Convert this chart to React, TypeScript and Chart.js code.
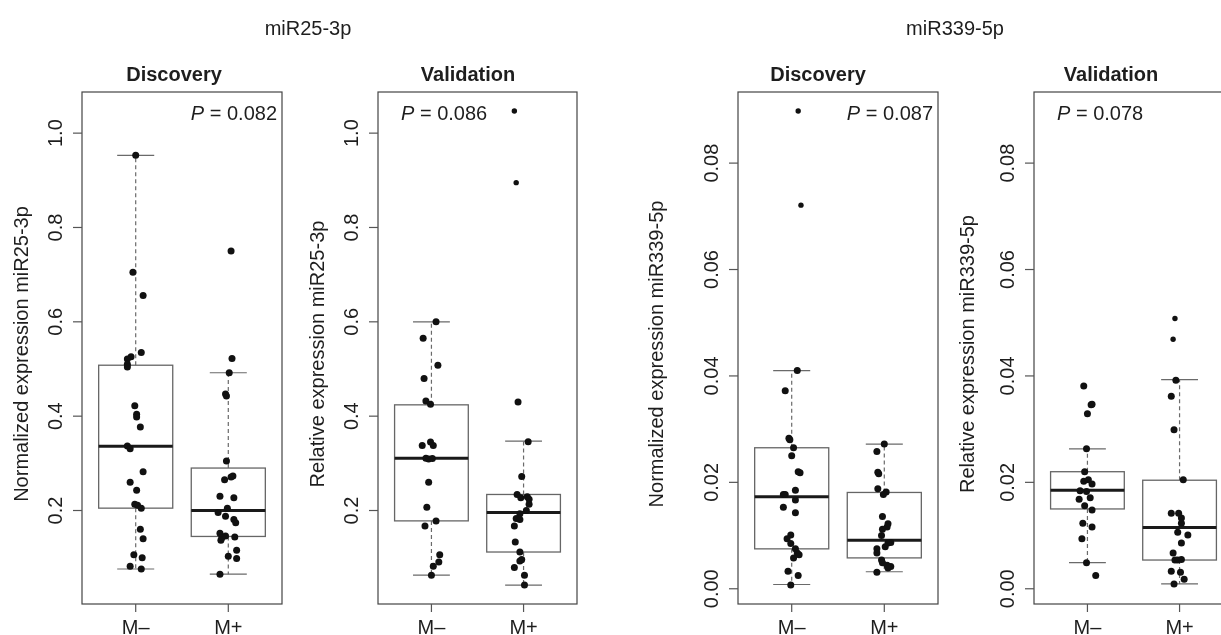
import React, { useEffect, useRef } from "react";
import { Chart, registerables } from "chart.js";

Chart.register(...registerables);

// ---------- data ----------
const CATEGORIES = ["M\u2013", "M+"];
const GROUP_TITLES = ["miR25-3p", "miR339-5p"];
const PANEL_TITLES = ["Discovery", "Validation", "Discovery", "Validation"];
const Y_LABELS = [
  "Normalized expression miR25-3p",
  "Relative expression miR25-3p",
  "Normalized expression miR339-5p",
  "Relative expression miR339-5p",
];
const P_VALUES = ["0.082", "0.086", "0.087", "0.078"];

const TICKS_25 = [0.2, 0.4, 0.6, 0.8, 1.0];
const TICK_LABELS_25 = ["0.2", "0.4", "0.6", "0.8", "1.0"];
const TICKS_339 = [0, 0.02, 0.04, 0.06, 0.08];
const TICK_LABELS_339 = ["0.00", "0.02", "0.04", "0.06", "0.08"];

// Panel 1: miR25-3p Discovery
const P1_NEG_VALUES = [0.953, 0.705, 0.656, 0.535, 0.526, 0.521, 0.51, 0.504, 0.422, 0.404, 0.398, 0.377, 0.337, 0.331, 0.282, 0.26, 0.243, 0.213, 0.211, 0.205, 0.16, 0.14, 0.106, 0.1, 0.082, 0.076];
const P1_NEG_JITTER = [0.0, -0.03, 0.08, 0.06, -0.05, -0.09, -0.09, -0.09, -0.01, 0.01, 0.01, 0.05, -0.09, -0.06, 0.08, -0.06, 0.01, -0.01, 0.02, 0.06, 0.05, 0.08, -0.02, 0.07, -0.06, 0.06];
const P1_POS_VALUES = [0.75, 0.522, 0.492, 0.447, 0.443, 0.305, 0.273, 0.271, 0.265, 0.23, 0.227, 0.205, 0.196, 0.188, 0.181, 0.174, 0.152, 0.146, 0.144, 0.142, 0.137, 0.116, 0.103, 0.098, 0.065];
const P1_POS_JITTER = [0.03, 0.04, 0.01, -0.03, -0.02, -0.02, 0.05, 0.03, -0.04, -0.09, 0.06, -0.01, -0.11, -0.03, 0.06, 0.08, -0.09, -0.03, 0.07, -0.07, -0.08, 0.09, 0.0, 0.09, -0.09];
const P1_BOX_NEG = [0.076, 0.205, 0.336, 0.508, 0.953];
const P1_BOX_POS = [0.065, 0.145, 0.2, 0.29, 0.492];

// Panel 2: miR25-3p Validation
const P2_NEG_VALUES = [0.6, 0.565, 0.508, 0.48, 0.432, 0.425, 0.345, 0.338, 0.338, 0.311, 0.309, 0.31, 0.26, 0.207, 0.178, 0.167, 0.106, 0.091, 0.082, 0.063];
const P2_NEG_JITTER = [0.05, -0.09, 0.07, -0.08, -0.06, -0.01, -0.01, -0.1, 0.02, -0.06, -0.03, 0.01, -0.03, -0.05, 0.05, -0.07, 0.09, 0.08, 0.02, 0.0];
const P2_POS_VALUES = [0.43, 0.346, 0.272, 0.234, 0.227, 0.229, 0.224, 0.213, 0.2, 0.193, 0.183, 0.181, 0.167, 0.133, 0.112, 0.096, 0.093, 0.079, 0.063, 0.042];
const P2_POS_JITTER = [-0.06, 0.05, -0.02, -0.07, -0.03, 0.04, 0.06, 0.06, 0.03, -0.04, -0.08, -0.04, -0.1, -0.09, -0.04, -0.02, -0.04, -0.1, 0.01, 0.01];
const P2_POS_OUT_VALUES = [1.047, 0.895];
const P2_POS_OUT_JITTER = [-0.1, -0.08];
const P2_BOX_NEG = [0.063, 0.178, 0.311, 0.424, 0.6];
const P2_BOX_POS = [0.042, 0.112, 0.196, 0.234, 0.347];

// Panel 3: miR339-5p Discovery
const P3_NEG_VALUES = [0.041, 0.0372, 0.0283, 0.028, 0.0265, 0.025, 0.022, 0.0218, 0.0185, 0.0177, 0.0177, 0.0167, 0.0153, 0.0143, 0.0101, 0.0094, 0.0085, 0.0075, 0.0067, 0.0064, 0.0058, 0.0033, 0.0025, 0.0007];
const P3_NEG_JITTER = [0.06, -0.07, -0.03, -0.02, 0.02, 0.0, 0.07, 0.09, 0.04, -0.09, -0.07, 0.04, -0.09, 0.04, -0.01, -0.05, -0.01, 0.04, 0.06, 0.08, 0.02, -0.04, 0.07, -0.01];
const P3_NEG_OUT_VALUES = [0.0898, 0.0721];
const P3_NEG_OUT_JITTER = [0.07, 0.1];
const P3_POS_VALUES = [0.0272, 0.0258, 0.0219, 0.0216, 0.0188, 0.0182, 0.0177, 0.0136, 0.0122, 0.0116, 0.0112, 0.01, 0.0087, 0.0086, 0.0079, 0.0075, 0.0067, 0.0054, 0.0049, 0.0044, 0.0042, 0.0039, 0.0031];
const P3_POS_JITTER = [0.0, -0.08, -0.07, -0.06, -0.07, 0.02, -0.01, -0.02, 0.04, 0.03, -0.02, -0.03, 0.07, 0.04, 0.01, -0.08, -0.08, -0.03, -0.02, 0.03, 0.07, 0.04, -0.08];
const P3_BOX_NEG = [0.0008, 0.0075, 0.0173, 0.0265, 0.041];
const P3_BOX_POS = [0.0032, 0.0058, 0.0091, 0.0181, 0.0272];

// Panel 4: miR339-5p Validation
const P4_NEG_VALUES = [0.0381, 0.0346, 0.0347, 0.0329, 0.0263, 0.022, 0.0202, 0.0205, 0.0197, 0.0184, 0.0183, 0.0171, 0.0168, 0.0156, 0.0148, 0.0123, 0.0116, 0.0094, 0.0049, 0.0025];
const P4_NEG_JITTER = [-0.04, 0.04, 0.05, 0.0, -0.01, -0.03, -0.04, 0.01, 0.05, -0.08, -0.01, 0.03, -0.09, -0.03, 0.05, -0.05, 0.05, -0.06, -0.01, 0.09];
const P4_POS_VALUES = [0.0392, 0.0362, 0.0299, 0.0205, 0.0142, 0.0142, 0.0133, 0.0123, 0.0106, 0.0101, 0.0086, 0.0067, 0.0054, 0.0054, 0.0055, 0.0033, 0.0031, 0.0018, 0.0009];
const P4_POS_JITTER = [-0.04, -0.09, -0.06, 0.04, -0.09, -0.01, 0.02, 0.02, -0.02, 0.09, 0.02, -0.07, -0.05, -0.02, 0.02, -0.09, 0.01, 0.05, -0.06];
const P4_POS_OUT_VALUES = [0.0508, 0.0469];
const P4_POS_OUT_JITTER = [-0.05, -0.07];
const P4_BOX_NEG = [0.0049, 0.015, 0.0185, 0.022, 0.0263];
const P4_BOX_POS = [0.0009, 0.0054, 0.0115, 0.0204, 0.0393];

// ---------- helpers ----------
const FONT = '"Liberation Sans", Arial, Helvetica, sans-serif';
const FS = 20;

function rRange(values: number[]): [number, number] {
  const mn = Math.min(...values);
  const mx = Math.max(...values);
  const r = mx - mn;
  return [mn - 0.04 * r, mx + 0.04 * r];
}

const RANGE_25 = rRange([
  ...P1_NEG_VALUES, ...P1_POS_VALUES, ...P2_NEG_VALUES, ...P2_POS_VALUES, ...P2_POS_OUT_VALUES,
]);
const RANGE_339 = rRange([
  ...P3_NEG_VALUES, ...P3_NEG_OUT_VALUES, ...P3_POS_VALUES, ...P4_NEG_VALUES, ...P4_POS_VALUES, ...P4_POS_OUT_VALUES,
]);

function pts(values: number[], jitter: number[], group: number) {
  return values.map((v, i) => ({ x: group + jitter[i], y: v }));
}

type PanelCfg = {
  canvasLeft: number;
  width: number;
  padLeft: number;
  padRight: number;
  title: string;
  titleX: number;
  yLabel: string;
  yLabelX: number;
  pText: string;
  pAlign: "left" | "right";
  normal: { x: number; y: number }[];
  small: { x: number; y: number }[];
  boxes: number[][];
  range: [number, number];
  ticks: number[];
  tickLabels: string[];
};

const PANELS: PanelCfg[] = [
  {
    canvasLeft: 0, width: 290, padLeft: 82, padRight: 8,
    title: PANEL_TITLES[0], titleX: 174, yLabel: Y_LABELS[0], yLabelX: 22,
    pText: P_VALUES[0], pAlign: "right",
    normal: [...pts(P1_NEG_VALUES, P1_NEG_JITTER, 1), ...pts(P1_POS_VALUES, P1_POS_JITTER, 2)],
    small: [],
    boxes: [P1_BOX_NEG, P1_BOX_POS], range: RANGE_25, ticks: TICKS_25, tickLabels: TICK_LABELS_25,
  },
  {
    canvasLeft: 290, width: 310, padLeft: 88, padRight: 23,
    title: PANEL_TITLES[1], titleX: 468, yLabel: Y_LABELS[1], yLabelX: 318,
    pText: P_VALUES[1], pAlign: "left",
    normal: [...pts(P2_NEG_VALUES, P2_NEG_JITTER, 1), ...pts(P2_POS_VALUES, P2_POS_JITTER, 2)],
    small: pts(P2_POS_OUT_VALUES, P2_POS_OUT_JITTER, 2),
    boxes: [P2_BOX_NEG, P2_BOX_POS], range: RANGE_25, ticks: TICKS_25, tickLabels: TICK_LABELS_25,
  },
  {
    canvasLeft: 620, width: 330, padLeft: 118, padRight: 12,
    title: PANEL_TITLES[2], titleX: 818, yLabel: Y_LABELS[2], yLabelX: 657,
    pText: P_VALUES[2], pAlign: "right",
    normal: [...pts(P3_NEG_VALUES, P3_NEG_JITTER, 1), ...pts(P3_POS_VALUES, P3_POS_JITTER, 2)],
    small: pts(P3_NEG_OUT_VALUES, P3_NEG_OUT_JITTER, 1),
    boxes: [P3_BOX_NEG, P3_BOX_POS], range: RANGE_339, ticks: TICKS_339, tickLabels: TICK_LABELS_339,
  },
  {
    canvasLeft: 950, width: 290, padLeft: 84, padRight: 7,
    title: PANEL_TITLES[3], titleX: 1111, yLabel: Y_LABELS[3], yLabelX: 968,
    pText: P_VALUES[3], pAlign: "left",
    normal: [...pts(P4_NEG_VALUES, P4_NEG_JITTER, 1), ...pts(P4_POS_VALUES, P4_POS_JITTER, 2)],
    small: pts(P4_POS_OUT_VALUES, P4_POS_OUT_JITTER, 2),
    boxes: [P4_BOX_NEG, P4_BOX_POS], range: RANGE_339, ticks: TICKS_339, tickLabels: TICK_LABELS_339,
  },
];

const HEIGHT = 635;
const PAD_TOP = 92;
const PAD_BOTTOM = 31;

function makePlugin(p: PanelCfg) {
  return {
    id: "rbox",
    beforeDatasetsDraw(chart: any) {
      const ctx = chart.ctx as CanvasRenderingContext2D;
      const xs = chart.scales.x;
      const ys = chart.scales.y;
      ctx.save();
      p.boxes.forEach((b, gi) => {
        const g = gi + 1;
        const [lo, q1, med, q3, hi] = b;
        const xc = xs.getPixelForValue(g);
        const xl = xs.getPixelForValue(g - 0.4);
        const xr = xs.getPixelForValue(g + 0.4);
        const cl = xs.getPixelForValue(g - 0.2);
        const cr = xs.getPixelForValue(g + 0.2);
        const yLo = ys.getPixelForValue(lo);
        const yQ1 = ys.getPixelForValue(q1);
        const yMed = ys.getPixelForValue(med);
        const yQ3 = ys.getPixelForValue(q3);
        const yHi = ys.getPixelForValue(hi);
        // whiskers (dashed)
        ctx.strokeStyle = "#6a6a6a";
        ctx.lineWidth = 1.2;
        ctx.setLineDash([4, 3]);
        ctx.beginPath();
        ctx.moveTo(xc, yQ3);
        ctx.lineTo(xc, yHi);
        ctx.moveTo(xc, yQ1);
        ctx.lineTo(xc, yLo);
        ctx.stroke();
        ctx.setLineDash([]);
        // staples
        ctx.beginPath();
        ctx.moveTo(cl, yHi);
        ctx.lineTo(cr, yHi);
        ctx.moveTo(cl, yLo);
        ctx.lineTo(cr, yLo);
        ctx.stroke();
        // box
        ctx.fillStyle = "#ffffff";
        ctx.fillRect(xl, yQ3, xr - xl, yQ1 - yQ3);
        ctx.strokeStyle = "#666666";
        ctx.lineWidth = 1.3;
        ctx.strokeRect(xl, yQ3, xr - xl, yQ1 - yQ3);
        // median
        ctx.strokeStyle = "#1a1a1a";
        ctx.lineWidth = 3;
        ctx.beginPath();
        ctx.moveTo(xl, yMed);
        ctx.lineTo(xr, yMed);
        ctx.stroke();
      });
      ctx.restore();
    },
    afterDraw(chart: any) {
      const ctx = chart.ctx as CanvasRenderingContext2D;
      const xs = chart.scales.x;
      const ys = chart.scales.y;
      const a = chart.chartArea;
      ctx.save();
      // frame
      ctx.strokeStyle = "#444444";
      ctx.lineWidth = 1.2;
      ctx.strokeRect(a.left, a.top, a.right - a.left, a.bottom - a.top);
      ctx.fillStyle = "#1e1e1e";
      // y ticks + rotated labels
      ctx.strokeStyle = "#555555";
      ctx.lineWidth = 1.2;
      ctx.font = `${FS}px ${FONT}`;
      p.ticks.forEach((t, i) => {
        const y = ys.getPixelForValue(t);
        ctx.beginPath();
        ctx.moveTo(a.left - 9, y);
        ctx.lineTo(a.left, y);
        ctx.stroke();
        ctx.save();
        ctx.translate(a.left - 26, y);
        ctx.rotate(-Math.PI / 2);
        ctx.textAlign = "center";
        ctx.textBaseline = "middle";
        ctx.fillText(p.tickLabels[i], 0, 0);
        ctx.restore();
      });
      // x ticks + labels
      CATEGORIES.forEach((c, i) => {
        const x = xs.getPixelForValue(i + 1);
        ctx.beginPath();
        ctx.moveTo(x, a.bottom);
        ctx.lineTo(x, a.bottom + 8);
        ctx.stroke();
        ctx.textAlign = "center";
        ctx.textBaseline = "alphabetic";
        ctx.fillText(c, x, 634);
      });
      // y axis title
      ctx.save();
      ctx.translate(p.yLabelX - p.canvasLeft, (a.top + a.bottom) / 2 + 6);
      ctx.rotate(-Math.PI / 2);
      ctx.textAlign = "center";
      ctx.textBaseline = "middle";
      ctx.fillText(p.yLabel, 0, 0);
      ctx.restore();
      // panel title
      ctx.font = `bold ${FS}px ${FONT}`;
      ctx.textAlign = "center";
      ctx.textBaseline = "alphabetic";
      ctx.fillText(p.title, p.titleX - p.canvasLeft, 81);
      // P value
      const fItal = `italic ${FS}px ${FONT}`;
      const fNorm = `${FS}px ${FONT}`;
      ctx.font = fItal;
      const wP = ctx.measureText("P").width;
      ctx.font = fNorm;
      const rest = " = " + p.pText;
      const wR = ctx.measureText(rest).width;
      const x0 = p.pAlign === "left" ? a.left + 23 : a.right - 5 - (wP + wR);
      ctx.textAlign = "left";
      ctx.font = fItal;
      ctx.fillText("P", x0, 120);
      ctx.font = fNorm;
      ctx.fillText(rest, x0 + wP, 120);
      ctx.restore();
    },
  };
}

function Panel({ cfg }: { cfg: PanelCfg }) {
  const ref = useRef<HTMLCanvasElement | null>(null);
  useEffect(() => {
    if (!ref.current) return;
    const chart = new Chart(ref.current, {
      type: "scatter",
      data: {
        datasets: [
          {
            data: cfg.normal,
            pointRadius: 3.5,
            pointHoverRadius: 3.5,
            backgroundColor: "#111111",
            borderWidth: 0,
          },
          {
            data: cfg.small,
            pointRadius: 2.7,
            pointHoverRadius: 2.7,
            backgroundColor: "#111111",
            borderWidth: 0,
          },
        ],
      },
      options: {
        animation: false,
        responsive: false,
        devicePixelRatio: 1,
        events: [],
        layout: {
          padding: { left: cfg.padLeft, right: cfg.padRight, top: PAD_TOP, bottom: PAD_BOTTOM },
        },
        scales: {
          x: { type: "linear", min: 0.42, max: 2.58, display: false },
          y: { type: "linear", min: cfg.range[0], max: cfg.range[1], display: false },
        },
        plugins: { legend: { display: false }, tooltip: { enabled: false } },
      },
      plugins: [makePlugin(cfg)],
    } as any);
    return () => chart.destroy();
  }, [cfg]);
  return (
    <canvas
      ref={ref}
      width={cfg.width}
      height={HEIGHT}
      style={{ position: "absolute", left: cfg.canvasLeft, top: 0, width: cfg.width, height: HEIGHT }}
    />
  );
}

export default function App() {
  const titleStyle = (x: number): React.CSSProperties => ({
    position: "absolute",
    left: x,
    top: 16,
    transform: "translateX(-50%)",
    fontFamily: FONT,
    fontSize: FS,
    color: "#1e1e1e",
    whiteSpace: "nowrap",
    lineHeight: "24px",
  });
  return (
    <div
      style={{
        position: "fixed",
        left: 0,
        top: 0,
        width: 1221,
        height: 635,
        overflow: "hidden",
        background: "#ffffff",
      }}
    >
      {PANELS.map((p, i) => (
        <Panel key={i} cfg={p} />
      ))}
      <div style={titleStyle(308)}>{GROUP_TITLES[0]}</div>
      <div style={titleStyle(955)}>{GROUP_TITLES[1]}</div>
    </div>
  );
}
